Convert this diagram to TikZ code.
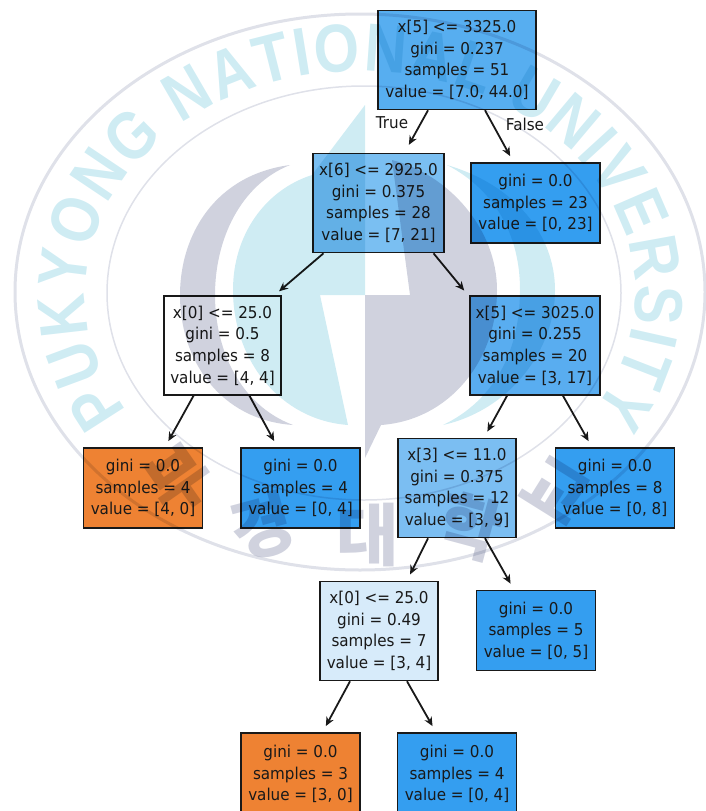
\documentclass[tikz,border=0pt]{standalone}
\usepackage{fontspec}
\setmainfont[FakeStretch=0.93]{DejaVu Sans}
\newfontfamily\wmfont[FakeStretch=0.86]{Liberation Sans}
\newfontfamily\wmcjk{Noto Sans CJK KR}
\usetikzlibrary{arrows.meta,decorations.text,calc}
\definecolor{leafblue}{HTML}{349EF0}
\definecolor{leaforange}{HTML}{EE8233}
\definecolor{wmcyan}{HTML}{CFECF3}
\definecolor{wmgray}{HTML}{D0D2DE}
\definecolor{wmring}{HTML}{DFE1E9}

\begin{document}
\begin{tikzpicture}[
    x=1pt, y=-1pt,
    split/.style={rectangle, draw=black!90, line width=1.6pt, align=center, inner sep=0pt,
        font=\fontsize{16.3}{21.6}\selectfont, text=black!90},
    leaf/.style={split, minimum width=119pt, minimum height=80pt},
    mid/.style={split, minimum width=118pt, minimum height=99pt},
    arr/.style={-{Stealth[length=9pt,width=8pt]}, line width=1.8pt, draw=black!90},
    branch/.style={font=\fontsize{16.3}{18}\selectfont, text=black!90, inner sep=0pt},
    syllable/.style={font=\wmcjk\bfseries\fontsize{68}{68}\selectfont, text=wmgray, inner sep=0pt},
]
\useasboundingbox (0,0) rectangle (706,811);
\clip (0,0) rectangle (706,811);

% Row 1: Root
\node[mid, minimum width=158pt, fill={rgb,255:red,87;green,174;blue,240}] (root) at (457,60)
    {x[5] <= 3325.0\\gini = 0.237\\samples = 51\\value = [7.0, 44.0]};

% Row 2
\node[mid, minimum width=131pt, fill={rgb,255:red,122;green,191;blue,242}] (xsix) at (378.5,203)
    {x[6] <= 2925.0\\gini = 0.375\\samples = 28\\value = [7, 21]};
\node[leaf, minimum width=129pt, fill=leafblue] (leafa) at (535.5,203)
    {gini = 0.0\\samples = 23\\value = [0, 23]};

% Row 3
\node[mid, minimum width=117pt, fill=white] (xzero) at (222.5,345.5)
    {x[0] <= 25.0\\gini = 0.5\\samples = 8\\value = [4, 4]};
\node[mid, minimum width=130pt, fill={rgb,255:red,89;green,173;blue,240}] (xfive) at (535,345.5)
    {x[5] <= 3025.0\\gini = 0.255\\samples = 20\\value = [3, 17]};

% Row 4
\node[leaf, fill=leaforange] (leafb) at (143,488)
    {gini = 0.0\\samples = 4\\value = [4, 0]};
\node[leaf, fill=leafblue] (leafc) at (300.5,488)
    {gini = 0.0\\samples = 4\\value = [0, 4]};
\node[mid, fill={rgb,255:red,123;green,190;blue,242}] (xthree) at (457,488)
    {x[3] <= 11.0\\gini = 0.375\\samples = 12\\value = [3, 9]};
\node[leaf, fill=leafblue] (leafd) at (615,488)
    {gini = 0.0\\samples = 8\\value = [0, 8]};

% Row 5
\node[mid, fill={rgb,255:red,215;green,235;blue,250}] (xlow) at (379,631)
    {x[0] <= 25.0\\gini = 0.49\\samples = 7\\value = [3, 4]};
\node[leaf, fill=leafblue] (leafe) at (536,630.5)
    {gini = 0.0\\samples = 5\\value = [0, 5]};

% Row 6
\node[leaf, minimum height=82pt, fill=leaforange] (leaff) at (300.5,774)
    {gini = 0.0\\samples = 3\\value = [3, 0]};
\node[leaf, minimum height=82pt, fill=leafblue] (leafg) at (457,774)
    {gini = 0.0\\samples = 4\\value = [0, 4]};

% Arrows
\draw[arr, shorten >=9pt] ([xshift=-29pt]root.south) -- ([xshift=26pt]xsix.north);
\draw[arr, shorten >=7pt] ([xshift=28pt]root.south) -- ([xshift=-22pt]leafa.north);
\draw[arr, shorten >=6pt] ([xshift=-55pt]xsix.south) -- ([xshift=52pt]xzero.north);
\draw[arr, shorten >=6pt] ([xshift=55pt]xsix.south) -- ([xshift=-67pt]xfive.north);
\draw[arr, shorten >=7pt] ([xshift=-29pt]xzero.south) -- ([xshift=22pt]leafb.north);
\draw[arr, shorten >=7pt] ([xshift=27pt]xzero.south) -- ([xshift=-23pt]leafc.north);
\draw[arr, shorten >=7pt] ([xshift=-28pt]xfive.south) -- ([xshift=27pt]xthree.north);
\draw[arr, shorten >=7pt] ([xshift=28pt]xfive.south) -- ([xshift=-23pt]leafd.north);
\draw[arr, shorten >=7pt] ([xshift=-29pt]xthree.south) -- ([xshift=28pt]xlow.north);
\draw[arr, shorten >=7pt] ([xshift=28pt]xthree.south) -- ([xshift=-22pt]leafe.north);
\draw[arr, shorten >=7pt] ([xshift=-29pt]xlow.south) -- ([xshift=22pt]leaff.north);
\draw[arr, shorten >=7pt] ([xshift=28pt]xlow.south) -- ([xshift=-21pt]leafg.north);

% Branch labels
\node[branch] (truelabel) at (392,123) {True};
\node[branch] (falselabel) at (525,124) {False};

% Watermark over the tree
\begin{scope}[blend mode=multiply]
    \draw[wmring, line width=3pt] (360,292) ellipse [x radius=345pt, y radius=278pt];
    \draw[wmring, line width=1.5pt] (364,293) ellipse [x radius=257pt, y radius=207pt];

    % Emblem
    \fill[wmgray] (290,165) .. controls (215,175) and (180,235) .. (180,295)
        .. controls (180,360) and (220,420) .. (293,425)
        .. controls (240,405) and (215,350) .. (215,295)
        .. controls (215,240) and (240,185) .. (290,165) -- cycle;
    \fill[wmcyan] (365,105) -- (365,295) -- (320,295) -- (348,425)
        .. controls (280,420) and (233,360) .. (233,290)
        .. controls (233,235) and (265,190) .. (312,175) -- cycle;
    \fill[wmgray] (392,160) -- (410,295) -- (365,295) -- (365,458) -- (381,425)
        .. controls (450,420) and (497,360) .. (497,290)
        .. controls (497,230) and (450,175) .. (392,160) -- cycle;
    \fill[wmcyan] (447,165) .. controls (515,185) and (555,235) .. (555,290)
        .. controls (555,350) and (510,410) .. (443,425)
        .. controls (495,400) and (520,350) .. (520,290)
        .. controls (520,235) and (495,190) .. (447,165) -- cycle;

    % University name
    \path[decorate, decoration={text along path, text align=fit to path,
        text={|\wmfont\bfseries\fontsize{68}{68}\selectfont\color{wmcyan}|PUKYONG NATIONAL UNIVERSITY}}]
        (127,411) arc [start angle=212, end angle=-32, x radius=275pt, y radius=222pt];

    % Korean name
    \foreach \syl/\px/\py/\rot [count=\i] in {부/180/480/35, 경/262/527/15, 대/368/535/0, 학/470/527/-15, 교/556/490/-32}
        \node[syllable, rotate=\rot] (syl\i) at (\px,\py) {\syl};
\end{scope}
\end{tikzpicture}
\end{document}
